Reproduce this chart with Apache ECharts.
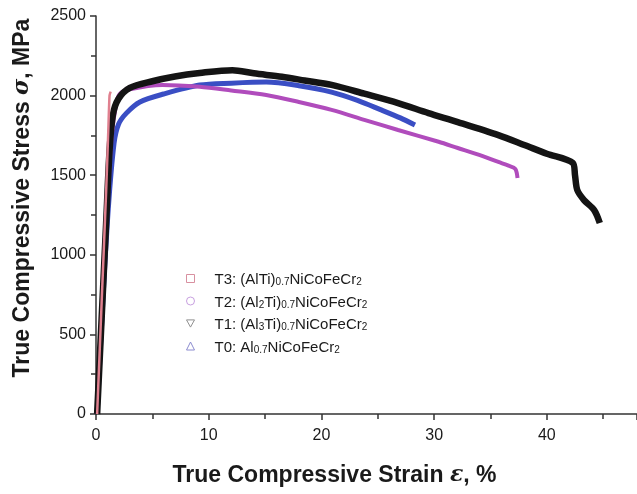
<!DOCTYPE html>
<html>
<head>
<meta charset="utf-8">
<script src="https://cdn.jsdelivr.net/npm/echarts@6/dist/echarts.min.js"></script>
<style>
  html, body { margin: 0; padding: 0; background: #fff; }
  #chart { width: 637px; height: 494px; }
</style>
</head>
<body>
<div id="chart"></div>
<script>
// strain (%) / stress (MPa) pairs
var t3Curve = [[0.1, 0], [0.5, 700], [0.9, 1400], [1.1, 1800], [1.2, 2000], [1.3, 2025]];
var t2Curve = [[0.1, 0], [0.6, 700], [1.0, 1300], [1.4, 1750], [1.8, 1950], [2.1, 2010], [3, 2040],
  [5.9, 2067], [9.2, 2055], [12, 2032], [15.1, 2004], [18, 1960], [20.9, 1910], [23.8, 1848],
  [26.8, 1784], [30.4, 1710], [32.1, 1671], [34, 1628], [35.7, 1583], [36.6, 1560], [37.2, 1540], [37.4, 1482]];
var t1Curve = [[0.1, 0], [0.5, 600], [0.9, 1200], [1.2, 1650], [1.5, 1880], [2.0, 1980], [3, 2048],
  [5, 2090], [7, 2120], [9.2, 2142], [12.1, 2160], [14, 2140], [16.5, 2118], [18.5, 2095], [20.9, 2067],
  [23.8, 2012], [26.8, 1953], [29.5, 1890], [32.1, 1834], [35.7, 1752], [38, 1690], [40, 1635],
  [42.3, 1577], [42.5, 1500], [42.7, 1407], [43.3, 1344], [44.2, 1281], [44.7, 1200]];
var t0Curve = [[0.1, 0], [0.6, 700], [1.1, 1300], [1.6, 1700], [2.0, 1820], [2.7, 1890], [3.9, 1960],
  [6, 2010], [9.2, 2066], [12, 2078], [15.1, 2085], [18, 2062], [20.9, 2022], [23.2, 1970],
  [25.3, 1910], [27, 1860], [28.3, 1815]];

var legendRich = {
  T3: '{p| }{m|T3: (AlTi)}{s|0.7}{m|NiCoFeCr}{s|2}',
  T2: '{p| }{m|T2: (Al}{s|2}{m|Ti)}{s|0.7}{m|NiCoFeCr}{s|2}',
  T1: '{p| }{m|T1: (Al}{s|3}{m|Ti)}{s|0.7}{m|NiCoFeCr}{s|2}',
  T0: '{p| }{m|T0: Al}{s|0.7}{m|NiCoFeCr}{s|2}'
};

var downTri = 'path://M0,0 L10,0 L5,9 Z';

var chart = echarts.init(document.getElementById('chart'));
chart.setOption({
  animation: false,
  backgroundColor: '#fff',
  textStyle: { fontFamily: 'Liberation Sans, Arial, sans-serif' },
  grid: { left: 96, right: -3, top: 16, bottom: 80 },
  legend: {
    orient: 'vertical',
    left: 181,
    top: 266,
    itemWidth: 8,
    itemHeight: 8,
    itemGap: 6,
    data: [
      { name: 'T3', icon: 'rect', itemStyle: { color: 'transparent', borderColor: '#d890a0', borderWidth: 1 } },
      { name: 'T2', icon: 'circle', itemStyle: { color: 'transparent', borderColor: '#c8a0e0', borderWidth: 1 } },
      { name: 'T1', icon: downTri, itemStyle: { color: 'transparent', borderColor: '#909090', borderWidth: 1 } },
      { name: 'T0', icon: 'triangle', itemStyle: { color: 'transparent', borderColor: '#8c8cd0', borderWidth: 1 } }
    ],
    formatter: function (name) { return legendRich[name]; },
    textStyle: {
      color: '#1a1a1a',
      rich: {
        p: { width: 15, fontSize: 15, lineHeight: 18 },
        m: { fontSize: 15, lineHeight: 18, verticalAlign: 'bottom', color: '#1a1a1a' },
        s: { fontSize: 10, lineHeight: 18, verticalAlign: 'bottom', color: '#1a1a1a' }
      }
    }
  },
  xAxis: {
    type: 'value',
    min: 0,
    max: 48,
    interval: 10,
    name: 'True Compressive Strain {i|ε}, %',
    nameLocation: 'middle',
    nameGap: 50,
    nameTextStyle: {
      fontSize: 23, fontWeight: 'bold', color: '#1a1a1a', padding: [0, 64, 0, 0],
      rich: { i: { fontFamily: 'DejaVu Serif, serif', fontStyle: 'italic', fontSize: 22, color: '#1a1a1a' } }
    },
    axisLine: { lineStyle: { color: '#333', width: 1.5 } },
    axisTick: { inside: false, length: 6, lineStyle: { color: '#333', width: 1.5 } },
    minorTick: { show: true, splitNumber: 2, length: 5, lineStyle: { color: '#333', width: 1.5 } },
    axisLabel: { fontSize: 16, color: '#1a1a1a', margin: 14, showMaxLabel: false },
    splitLine: { show: false }
  },
  yAxis: {
    type: 'value',
    min: 0,
    max: 2500,
    interval: 500,
    name: 'True Compressive Stress {i|σ}, MPa',
    nameLocation: 'middle',
    nameGap: 62,
    nameTextStyle: {
      fontSize: 23, fontWeight: 'bold', color: '#1a1a1a', padding: [0, 0, 0, 34],
      rich: { i: { fontFamily: 'DejaVu Serif, serif', fontStyle: 'italic', fontSize: 22, color: '#1a1a1a' } }
    },
    axisLine: { show: true, lineStyle: { color: '#333', width: 1.5 } },
    axisTick: { show: true, inside: false, length: 6, lineStyle: { color: '#333', width: 1.5 } },
    minorTick: { show: true, splitNumber: 2, length: 5, lineStyle: { color: '#333', width: 1.5 } },
    axisLabel: { fontSize: 16, color: '#1a1a1a', margin: 10, formatter: function (v) { return String(v); } },
    splitLine: { show: false }
  },
  series: [
    { name: 'T0', type: 'line', data: t0Curve, showSymbol: false, smooth: 0.3,
      lineStyle: { color: '#3a4ec4', width: 5 }, itemStyle: { color: '#3a4ec4' } },
    { name: 'T2', type: 'line', data: t2Curve, showSymbol: false, smooth: 0.3,
      lineStyle: { color: '#b04cbc', width: 4 }, itemStyle: { color: '#b04cbc' } },
    { name: 'T1', type: 'line', data: t1Curve, showSymbol: false, smooth: 0.3,
      lineStyle: { color: '#141414', width: 6.5 }, itemStyle: { color: '#141414' } },
    { name: 'T3', type: 'line', data: t3Curve, showSymbol: false, smooth: 0.2,
      lineStyle: { color: '#e0808f', width: 2.5 }, itemStyle: { color: '#e0808f' } }
  ]
});
</script>
</body>
</html>
